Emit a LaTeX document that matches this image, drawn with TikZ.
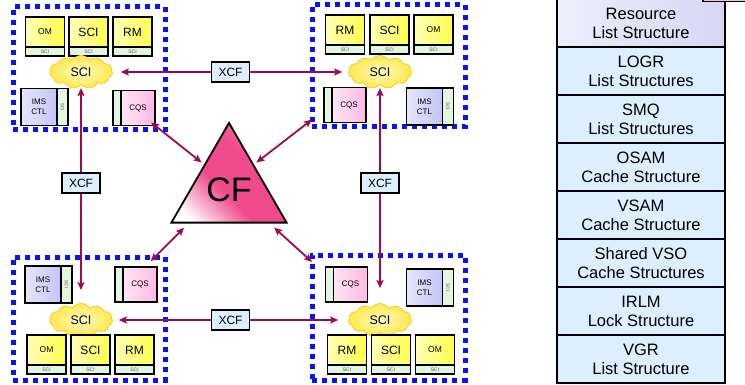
\documentclass[tikz,border=0pt]{standalone}
\usepackage{fontspec}
\setmainfont{Liberation Sans}
\usepackage{graphicx}
\usetikzlibrary{positioning,shapes.geometric,shapes.symbols,arrows.meta}
\definecolor{dotblue}{HTML}{0A14F0}
\definecolor{linkred}{HTML}{9E0A50}
\definecolor{memyellow}{HTML}{FFFF4A}
\definecolor{memlight}{HTML}{FFFFB8}
\definecolor{stripgreen}{HTML}{E2F6E2}
\definecolor{imsblue}{HTML}{C4C4F8}
\definecolor{imslight}{HTML}{E6E6FC}
\definecolor{cqspink}{HTML}{FFB8E4}
\definecolor{cqslight}{HTML}{FFE6F4}
\definecolor{cloudyellow}{HTML}{FFE84A}
\definecolor{cloudlight}{HTML}{FFFBC8}
\definecolor{cloudedge}{HTML}{F0D030}
\definecolor{cfpink}{HTML}{F04A8E}
\definecolor{xcfblue}{HTML}{DDEEFF}
\definecolor{listblue}{HTML}{DDEEFF}
\definecolor{reslilac}{HTML}{D6D6F4}
\definecolor{reslight}{HTML}{EEEEFC}
\pgfdeclareverticalshading{cfshade}{100bp}{color(0bp)=(white); color(22bp)=(white);
  color(42bp)=(cfpink); color(60bp)=(cfpink); color(85bp)=(cfpink!55!white);
  color(100bp)=(cfpink!55!white)}
\tikzset{
  cluster/.style={draw=dotblue, line width=5pt, dash pattern=on 5pt off 5pt,
                  inner sep=0pt, outer sep=0pt},
  member/.style={draw, line width=1.3pt, left color=memlight, right color=memyellow,
                 minimum width=39pt, minimum height=30pt, inner sep=0pt, outer sep=0pt,
                 font=\fontsize{12}{14}\selectfont},
  smalllbl/.style={font=\fontsize{8.5}{10}\selectfont},
  memberstrip/.style={draw, line width=1.3pt, fill=stripgreen, minimum width=39pt,
                      minimum height=9pt, inner sep=0pt, outer sep=0pt,
                      font=\fontsize{5}{5}\selectfont, text=black!70},
  imsbox/.style={draw, line width=1.3pt, left color=imslight, right color=imsblue,
                 minimum width=36pt, minimum height=37pt, inner sep=0pt, outer sep=0pt,
                 align=center, font=\fontsize{8}{10}\selectfont},
  imsstrip/.style={draw, line width=1.3pt, fill=stripgreen, minimum width=11pt,
                   minimum height=37pt, inner sep=0pt, outer sep=0pt,
                   font=\fontsize{4.5}{5}\selectfont, text=black!70},
  cqsbox/.style={draw, line width=1.3pt, left color=cqslight, right color=cqspink,
                 minimum width=34pt, minimum height=35pt, inner sep=0pt, outer sep=0pt,
                 font=\fontsize{8}{10}\selectfont},
  cqsstrip/.style={draw, line width=1.3pt, fill=stripgreen, minimum width=8pt,
                   minimum height=35pt, inner sep=0pt, outer sep=0pt},
  cloudnode/.style={cloud, cloud puffs=11, cloud puff arc=110, cloud ignores aspect,
                    draw=cloudedge, line width=0.8pt, inner color=cloudlight,
                    outer color=cloudyellow, minimum width=63pt, minimum height=33pt,
                    inner sep=0pt, font=\fontsize{12.5}{14}\selectfont},
  cfnode/.style={regular polygon, regular polygon sides=3, minimum size=133pt,
                 draw, line width=1.8pt, inner sep=0pt, shading=cfshade,
                 shading angle=-45, font=\fontsize{34}{36}\selectfont},
  link/.style={<->, >={Stealth[length=8pt, width=7pt, inset=1.5pt]}, draw=linkred,
               line width=1.8pt},
  xcf/.style={draw=black, text=black, line width=1.8pt, fill=xcfblue, minimum width=38pt,
              minimum height=20pt, inner sep=0pt, font=\fontsize{12}{14}\selectfont},
  liststruct/.style={draw, line width=2.2pt, fill=listblue, minimum width=168pt,
                     minimum height=48pt, inner sep=0pt, outer sep=0pt, align=center,
                     font=\fontsize{16.5}{19}\selectfont},
  resbox/.style={liststruct, left color=reslight, right color=reslilac},
}
\begin{document}
\begin{tikzpicture}[x=1pt, y=-1pt]
  \useasboundingbox (0,0) rectangle (745,385);

  % top left system
  \node[cluster, minimum width=152pt, minimum height=123pt] (tl) at (89,68.5) {};
  \node[member, smalllbl] (tlom) at (45,32) {OM};
  \node[memberstrip, below=0pt of tlom] (tlomsci) {SCI};
  \node[member] (tlsc) at (88.5,32) {SCI};
  \node[memberstrip, below=0pt of tlsc] (tlscsci) {SCI};
  \node[member] (tlrm) at (132.5,32) {RM};
  \node[memberstrip, below=0pt of tlrm] (tlrmsci) {SCI};
  \node[cloudnode] (tlsci) at (81,72) {SCI};
  \node[imsbox] (tlims) at (39,107) {IMS\\CTL};
  \node[imsstrip, right=0pt of tlims] (tlimssci) {\rotatebox{-90}{SCI}};
  \node[cqsbox] (tlcqs) at (138,108) {CQS};
  \node[cqsstrip, left=0pt of tlcqs] (tlcqsl) {};

  % top right system
  \node[cluster, minimum width=153pt, minimum height=122pt] (tr) at (388.5,66) {};
  \node[member] (trrm) at (345,30) {RM};
  \node[memberstrip, below=0pt of trrm] (trrmsci) {SCI};
  \node[member] (trsc) at (389.5,30) {SCI};
  \node[memberstrip, below=0pt of trsc] (trscsci) {SCI};
  \node[member, smalllbl] (trom) at (433.5,30) {OM};
  \node[memberstrip, below=0pt of trom] (tromsci) {SCI};
  \node[cloudnode] (trsci) at (380,72) {SCI};
  \node[cqsbox] (trcqs) at (349,105) {CQS};
  \node[cqsstrip, left=0pt of trcqs] (trcqsl) {};
  \node[imsbox] (trims) at (424.5,106.5) {IMS\\CTL};
  \node[imsstrip, right=0pt of trims] (trimssci) {\rotatebox{-90}{SCI}};

  % bottom left system
  \node[cluster, minimum width=152pt, minimum height=123pt] (bl) at (89,318.5) {};
  \node[imsbox] (blims) at (43,284.5) {IMS\\CTL};
  \node[imsstrip, right=0pt of blims] (blimssci) {\rotatebox{-90}{SCI}};
  \node[cqsbox] (blcqs) at (140,284.5) {CQS};
  \node[cqsstrip, left=0pt of blcqs] (blcqsl) {};
  \node[cloudnode] (blsci) at (81,320) {SCI};
  \node[member, smalllbl] (blom) at (46.5,350) {OM};
  \node[memberstrip, below=0pt of blom] (blomsci) {SCI};
  \node[member] (blsc) at (90.5,350) {SCI};
  \node[memberstrip, below=0pt of blsc] (blscsci) {SCI};
  \node[member] (blrm) at (134.5,350) {RM};
  \node[memberstrip, below=0pt of blrm] (blrmsci) {SCI};

  % bottom right system
  \node[cluster, minimum width=153pt, minimum height=125pt] (br) at (388.5,317.5) {};
  \node[cqsbox] (brcqs) at (350.5,284.5) {CQS};
  \node[cqsstrip, left=0pt of brcqs] (brcqsl) {};
  \node[imsbox] (brims) at (424.5,287.5) {IMS\\CTL};
  \node[imsstrip, right=0pt of brims] (brimssci) {\rotatebox{-90}{SCI}};
  \node[cloudnode] (brsci) at (380,320) {SCI};
  \node[member] (brrm) at (347,350) {RM};
  \node[memberstrip, below=0pt of brrm] (brrmsci) {SCI};
  \node[member] (brsc) at (391,350) {SCI};
  \node[memberstrip, below=0pt of brsc] (brscsci) {SCI};
  \node[member, smalllbl] (brom) at (435,350) {OM};
  \node[memberstrip, below=0pt of brom] (bromsci) {SCI};

  % coupling facility
  \node[cfnode] (cf) at (229,189.4) {CF};

  % XCF links
  \draw[link, shorten <=8pt, shorten >=6pt] (tlsci.east) -- (trsci.west)
    node[xcf, midway] (xcftop) {XCF};
  \draw[link, shorten <=6pt, shorten >=10pt] (blsci.east) -- (brsci.west)
    node[xcf, midway] (xcfbottom) {XCF};
  \draw[link, shorten <=3pt, shorten >=13pt] (tlsci.south) -- (blsci.north)
    node[xcf, pos=0.45] (xcfleft) {XCF};
  \draw[link, shorten <=3pt, shorten >=15pt] (trsci.south) -- (brsci.north)
    node[xcf, pos=0.45] (xcfright) {XCF};

  % CF links
  \draw[link, shorten <=-5pt, shorten >=3pt] (tlcqs.south east) -- (cf.135);
  \draw[link, shorten >=3pt] (tr.215) -- (cf.45);
  \draw[link, shorten <=-6pt, shorten >=6pt] (bl.43) -- (cf.-140);
  \draw[link, shorten >=6pt] (br.144) -- (cf.-40);

  % structures in the CF
  \node[resbox] (res) at (641,23) {Resource\\List Structure};
  \node[liststruct, below=0pt of res] (logr) {LOGR\\List Structures};
  \node[liststruct, below=0pt of logr] (smq) {SMQ\\List Structures};
  \node[liststruct, below=0pt of smq] (osam) {OSAM\\Cache Structure};
  \node[liststruct, below=0pt of osam] (vsam) {VSAM\\Cache Structure};
  \node[liststruct, below=0pt of vsam] (vso) {Shared VSO\\Cache Structures};
  \node[liststruct, below=0pt of vso] (irlm) {IRLM\\Lock Structure};
  \node[liststruct, below=0pt of irlm] (vgr) {VGR\\List Structure};
  \draw[line width=1.8pt, fill=cqspink] (703,-10) rectangle (760,1.5);
\end{tikzpicture}
\end{document}
